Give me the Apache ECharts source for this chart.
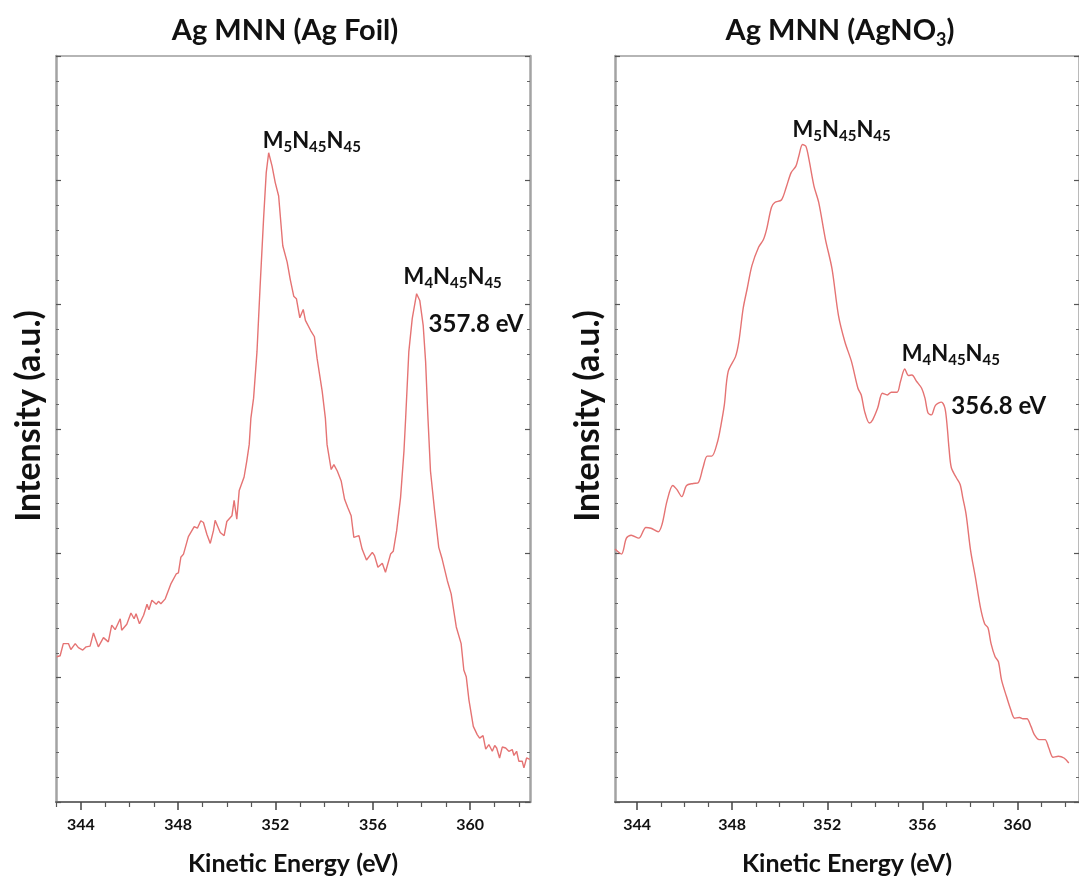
<!DOCTYPE html>
<html>
<head>
<meta charset="utf-8">
<script src="https://cdn.jsdelivr.net/npm/echarts@6/dist/echarts.min.js"></script>
<style>
  html, body { margin: 0; padding: 0; background: #ffffff; }
  #chart { width: 1079px; height: 881px; }
</style>
</head>
<body>
<div id="chart"></div>
<script>
// Ag MNN Auger spectra: Ag foil (left) and AgNO3 (right)

const foilEnergy = [
  343.01,343.15,343.28,343.49,343.59,343.77,343.90,344.08,344.22,344.38,
  344.52,344.59,344.72,344.93,345.13,345.27,345.41,345.62,345.68,345.89,
  346.06,346.19,346.27,346.41,346.58,346.72,346.80,346.92,347.10,347.19,
  347.29,347.47,347.53,347.70,347.92,348.01,348.11,348.22,348.42,348.66,
  348.79,348.93,349.04,349.18,349.32,349.45,349.52,349.59,349.73,349.89,
  350.00,350.21,350.30,350.41,350.51,350.71,350.82,350.92,350.99,351.10,
  351.24,351.37,351.51,351.62,351.72,351.86,351.99,352.13,352.30,352.48,
  352.61,352.75,352.86,353.00,353.14,353.23,353.44,353.60,353.71,353.92,
  354.05,354.12,354.29,354.40,354.54,354.70,354.84,354.97,355.11,355.22,
  355.43,355.56,355.74,355.98,356.07,356.21,356.39,356.52,356.73,356.84,
  356.98,357.14,357.28,357.35,357.48,357.62,357.80,357.93,358.07,358.17,
  358.26,358.37,358.54,358.71,358.85,359.06,359.22,359.43,359.63,359.74,
  359.84,359.95,360.13,360.29,360.39,360.53,360.64,360.77,360.91,361.01,
  361.09,361.21,361.32,361.46,361.59,361.73,361.80,361.91,362.00,362.14,
  362.21,362.32,362.45
];
const foilIntensity = [
  5.84,5.88,6.37,6.37,6.13,6.37,6.21,6.11,6.24,6.27,
  6.80,6.77,6.24,6.61,6.44,7.11,6.93,7.37,6.91,7.15,
  7.60,7.37,7.57,7.17,7.51,7.95,7.73,8.11,7.95,8.07,
  7.97,8.17,8.17,8.77,9.17,9.21,9.84,9.97,10.67,11.07,
  11.01,11.31,11.24,10.77,10.40,10.91,11.33,11.31,10.84,10.71,
  11.28,11.51,12.13,11.37,12.53,13.07,13.71,14.37,15.44,16.24,
  18.11,20.77,23.44,25.31,26.11,25.57,24.91,24.37,22.37,21.71,
  21.00,20.34,20.24,19.47,19.81,19.37,18.97,18.71,17.84,16.51,
  15.44,14.37,13.37,13.57,13.31,12.91,12.17,11.84,11.51,10.64,
  10.71,10.17,9.73,10.04,9.91,9.44,9.60,9.24,9.97,10.08,
  10.91,12.24,14.11,15.44,18.11,19.44,20.44,20.17,19.17,17.71,
  15.57,13.31,11.71,10.24,9.77,8.91,8.37,7.04,6.37,5.31,
  5.04,4.11,3.04,2.71,2.57,2.67,2.13,2.31,2.04,2.27,
  2.17,1.77,2.21,2.17,2.04,2.11,1.87,2.04,1.64,1.64,
  1.37,1.77,1.71
];

const nitrateEnergy = [
  343.07,343.34,343.55,343.75,344.07,344.37,344.58,344.89,345.05,345.26,
  345.50,345.67,345.88,346.08,346.36,346.57,346.77,346.95,347.14,347.39,
  347.53,347.67,347.83,348.14,348.28,348.46,348.63,348.83,349.11,349.31,
  349.45,349.65,349.79,350.07,350.27,350.48,350.68,350.80,350.96,351.10,
  351.23,351.44,351.64,351.92,352.20,352.47,352.74,353.02,353.29,353.43,
  353.57,353.77,353.91,354.12,354.32,354.53,354.69,354.94,355.08,355.26,
  355.42,355.56,355.76,355.97,356.11,356.24,356.38,356.55,356.80,356.95,
  357.05,357.12,357.22,357.43,357.59,357.70,357.84,358.03,358.23,358.44,
  358.62,358.76,358.89,359.06,359.20,359.33,359.54,359.72,359.88,360.09,
  360.23,360.40,360.57,360.71,360.91,361.16,361.32,361.50,361.72,361.96,
  362.16
];
const nitrateIntensity = [
  10.17,9.97,10.61,10.73,10.61,11.04,11.01,10.87,11.17,12.11,
  12.73,12.57,12.28,12.73,12.81,12.84,13.44,13.91,13.91,14.51,
  15.17,15.97,17.31,17.91,18.51,19.84,20.64,21.57,22.31,22.61,
  23.04,23.91,24.11,24.21,24.71,25.31,25.57,25.97,26.44,26.37,
  25.84,24.77,24.11,22.64,21.44,19.57,18.51,17.71,16.64,16.37,
  15.71,15.24,15.37,15.84,16.44,16.37,16.48,16.48,16.91,17.41,
  17.15,17.17,16.91,16.64,16.24,15.64,15.57,15.95,16.08,15.84,
  15.04,14.24,13.44,13.04,12.77,12.24,11.57,10.11,9.04,7.84,
  7.17,7.01,6.37,5.84,5.64,4.91,4.24,3.71,3.37,3.40,
  3.35,3.35,3.04,2.71,2.51,2.51,2.17,1.80,1.84,1.77,
  1.57
];

// peak positions that are annotated (eV)
const foilM5Peak = 351.72;
const foilM4Peak = 357.8;
const nitrateM5Peak = 350.96;
const nitrateM4Peak = 355.26;
const nitrateM4Shoulder = 356.8;

const majorTicks = [344, 348, 352, 356, 360];
const minorTicks = [343, 345, 346, 347, 349, 350, 351, 353, 354, 355, 357, 358, 359, 361, 362];

const FONT = 'Lato, "Open Sans", sans-serif';
const LINE_COLOR = '#e57373';
const INK = '#111111';

function pairs(xs, ys) { return xs.map((x, i) => [x, ys[i]]); }
function valueAt(xs, ys, x) {
  let best = 0;
  xs.forEach((v, i) => { if (Math.abs(v - x) < Math.abs(xs[best] - x)) best = i; });
  return ys[best];
}

// Auger transition label with lowered subscripts
const augerLabel = (j) => '{m|M}{s|' + j + '}{m|N}{s|45}{m|N}{s|45}';
const augerRich = {
  m: { fontFamily: FONT, fontWeight: 'bold', fontSize: 22, color: INK, verticalAlign: 'top' },
  s: { fontFamily: FONT, fontWeight: 'bold', fontSize: 15, color: INK, verticalAlign: 'top', padding: [10, 0, 0, 0] }
};

function xAxesFor(grid, min, max) {
  return [
    {
      gridIndex: grid, type: 'value', position: 'bottom', min: min, max: max,
      axisLine: { show: true, onZero: false, lineStyle: { color: '#6e6e6e', width: 2 } },
      axisTick: { show: true, customValues: majorTicks, length: 8, lineStyle: { color: '#444', width: 1.5 } },
      axisLabel: { customValues: majorTicks, margin: 15, fontFamily: FONT, fontWeight: 'bold', fontSize: 16, color: INK },
      splitLine: { show: false },
      name: 'Kinetic Energy (eV)', nameLocation: 'middle', nameGap: 49,
      nameTextStyle: { fontFamily: FONT, fontWeight: 'bold', fontSize: 25, color: INK }
    },
    {
      gridIndex: grid, type: 'value', position: 'bottom', min: min, max: max,
      axisLine: { show: false },
      axisTick: { show: true, customValues: minorTicks, length: 5, lineStyle: { color: '#555', width: 1.2 } },
      axisLabel: { show: false }, splitLine: { show: false }
    },
    {
      gridIndex: grid, type: 'value', position: 'top', min: min, max: max,
      axisLine: { show: true, onZero: false, lineStyle: { color: '#9d9d9d', width: 1.5 } },
      axisTick: { show: false }, axisLabel: { show: false }, splitLine: { show: false }
    }
  ];
}

function yAxesFor(grid) {
  const common = {
    gridIndex: grid, type: 'value', min: 0, max: 30, interval: 5,
    axisLine: { show: true, onZero: false, lineStyle: { color: '#a3a3a3', width: 2.5 } },
    axisTick: { show: true, inside: true, length: 5, lineStyle: { color: '#555', width: 1.2 } },
    minorTick: { show: true, splitNumber: 5, length: 3, lineStyle: { color: '#666', width: 1 } },
    axisLabel: { show: false }, splitLine: { show: false }, minorSplitLine: { show: false }
  };
  return [
    Object.assign({}, common, {
      position: 'left',
      name: 'Intensity (a.u.)', nameLocation: 'middle', nameGap: 10,
      nameTextStyle: { fontFamily: FONT, fontWeight: 'bold', fontSize: 34, color: INK, padding: [0, 0, 0, 26] }
    }),
    Object.assign({}, common, { position: 'right' })
  ];
}

function mark(coord, text, pos, rich, fontSize) {
  const label = {
    show: true, position: pos, align: 'left', verticalAlign: 'bottom',
    formatter: text, fontFamily: FONT, fontWeight: 'bold', fontSize: fontSize || 22, color: INK
  };
  if (rich) label.rich = rich;
  return { coord: coord, symbolSize: 0, label: label };
}

const foilData = pairs(foilEnergy, foilIntensity);
const nitrateData = pairs(nitrateEnergy, nitrateIntensity);

const chart = echarts.init(document.getElementById('chart'), null, { renderer: 'canvas' });

chart.setOption({
  animation: false,
  backgroundColor: '#ffffff',
  grid: [
    { left: 56, top: 56, width: 474, height: 750 },
    { left: 615, top: 56, width: 474, height: 750 }
  ],
  xAxis: xAxesFor(0, 342.98, 362.46).concat(xAxesFor(1, 343.07, 362.59)),
  yAxis: yAxesFor(0).concat(yAxesFor(1)),
  graphic: [
    {
      type: 'text', x: 285, y: 31,
      style: { text: 'Ag MNN (Ag Foil)', fontFamily: FONT, fontWeight: 'bold', fontSize: 29, fill: INK, align: 'center', verticalAlign: 'middle' }
    },
    {
      type: 'text', x: 840, y: 33,
      style: {
        text: '{t|Ag MNN (AgNO}{s|3}{t|)}', align: 'center', verticalAlign: 'middle',
        rich: {
          t: { fontFamily: FONT, fontWeight: 'bold', fontSize: 29, fill: INK, verticalAlign: 'top' },
          s: { fontFamily: FONT, fontWeight: 'bold', fontSize: 18, fill: INK, verticalAlign: 'top', padding: [15, 0, 0, 0] }
        }
      }
    }
  ],
  series: [
    {
      type: 'line', xAxisIndex: 0, yAxisIndex: 0, data: foilData,
      symbol: 'none', smooth: false, lineStyle: { color: LINE_COLOR, width: 1.4 },
      markPoint: {
        silent: true, symbol: 'circle', symbolSize: 0,
        data: [
          mark([foilM5Peak, valueAt(foilEnergy, foilIntensity, foilM5Peak)], augerLabel(5), [-6, 2], augerRich),
          mark([foilM4Peak, valueAt(foilEnergy, foilIntensity, foilM4Peak)], augerLabel(4), [-13, -3], augerRich),
          mark([foilM4Peak, valueAt(foilEnergy, foilIntensity, foilM4Peak)], foilM4Peak.toFixed(1) + ' eV', [12, 43], null, 24)
        ]
      }
    },
    {
      type: 'line', xAxisIndex: 3, yAxisIndex: 2, data: nitrateData,
      symbol: 'none', smooth: 0.3, lineStyle: { color: LINE_COLOR, width: 1.4 },
      markPoint: {
        silent: true, symbol: 'circle', symbolSize: 0,
        data: [
          mark([nitrateM5Peak, valueAt(nitrateEnergy, nitrateIntensity, nitrateM5Peak)], augerLabel(5), [-10, -1], augerRich),
          mark([nitrateM4Peak, valueAt(nitrateEnergy, nitrateIntensity, nitrateM4Peak)], augerLabel(4), [-3, -1], augerRich),
          mark([nitrateM4Shoulder, valueAt(nitrateEnergy, nitrateIntensity, nitrateM4Shoulder)], nitrateM4Shoulder.toFixed(1) + ' eV', [10, 16], null, 24)
        ]
      }
    }
  ]
});
</script>
</body>
</html>
